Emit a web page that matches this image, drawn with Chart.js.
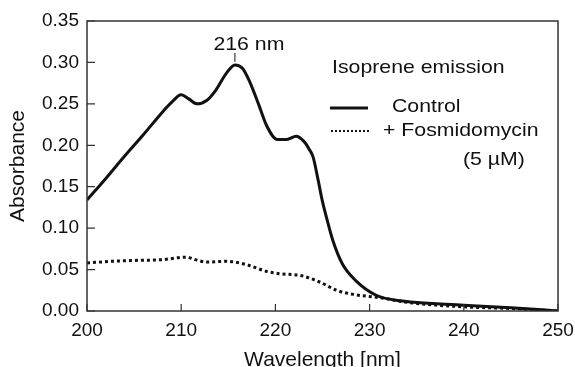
<!DOCTYPE html>
<html>
<head>
<meta charset="utf-8">
<script src="https://cdn.jsdelivr.net/npm/chart.js@4/dist/chart.umd.min.js"></script>
<style>
  html, body { margin: 0; padding: 0; background: #fff; }
  #wrap { width: 575px; height: 367px; }
</style>
</head>
<body>
<div id="wrap"><canvas id="specGraph" width="575" height="367"></canvas></div>
<script>
// data
const controlNm = [200, 202, 204, 206, 208, 209, 210, 210.8, 211.7, 212.7, 213.7, 214.8, 215.7, 216.5, 217.3, 218.2, 219.1, 220.2, 221.2, 222.2, 223.0, 223.6, 224.0, 224.5, 225.0, 225.4, 226.1, 227.1, 228.5, 230.7, 233.5, 240, 245, 250];
const controlAbs = [0.134, 0.160, 0.187, 0.213, 0.240, 0.252, 0.261, 0.256, 0.250, 0.254, 0.267, 0.287, 0.297, 0.293, 0.276, 0.250, 0.223, 0.207, 0.207, 0.211, 0.205, 0.195, 0.186, 0.160, 0.132, 0.114, 0.085, 0.057, 0.037, 0.019, 0.012, 0.007, 0.004, 0.0];
const fosNm = [200, 202.7, 205, 208, 210.5, 211.5, 212.7, 214.8, 216.9, 219.0, 220.4, 222.6, 224.7, 226.5, 228.3, 231.1, 234.3, 240, 245, 250];
const fosAbs = [0.058, 0.060, 0.061, 0.062, 0.065, 0.062, 0.059, 0.060, 0.056, 0.048, 0.045, 0.043, 0.035, 0.025, 0.020, 0.016, 0.010, 0.005, 0.003, 0.0];
const xTicks = [200, 210, 220, 230, 240, 250];
const yTicks = [0, 0.05, 0.10, 0.15, 0.20, 0.25, 0.30, 0.35];
const peakNm = 215.7;
const peakAbs = 0.297;

const ink = "#111";
const font = "'Liberation Sans', Arial, sans-serif";

function toPoints(xs, ys) {
  return xs.map((x, i) => ({ x: x, y: ys[i] }));
}

// text in the original is a bit wide, so stretch it a little
function wideText(ctx, text, x, y, align) {
  ctx.save();
  ctx.translate(x, y);
  ctx.scale(1.12, 1);
  ctx.textAlign = align;
  ctx.fillText(text, 0, 0);
  ctx.restore();
}

//frame, inward ticks, peak label and legend
const decorations = {
  id: "decorations",
  afterDraw(chart) {
    const ctx = chart.ctx;
    const a = chart.chartArea;
    const xs = chart.scales.x;
    const ys = chart.scales.y;
    ctx.save();
    ctx.strokeStyle = "#333";
    ctx.lineWidth = 1.5;
    ctx.strokeRect(a.left, a.top, a.right - a.left, a.bottom - a.top);

    ctx.lineWidth = 1.2;
    ctx.beginPath();
    xTicks.forEach((v) => {
      const px = xs.getPixelForValue(v);
      ctx.moveTo(px, a.bottom);
      ctx.lineTo(px, a.bottom - 7);
    });
    yTicks.forEach((v) => {
      const py = ys.getPixelForValue(v);
      ctx.moveTo(a.left, py);
      ctx.lineTo(a.left + 8, py);
    });
    ctx.stroke();

    // 216 nm marker
    const peakX = xs.getPixelForValue(peakNm);
    const peakY = ys.getPixelForValue(peakAbs);
    ctx.strokeStyle = ink;
    ctx.lineWidth = 1;
    ctx.beginPath();
    ctx.moveTo(peakX, peakY - 3);
    ctx.lineTo(peakX, peakY - 12);
    ctx.stroke();
    ctx.fillStyle = ink;
    ctx.font = "19px " + font;
    ctx.textBaseline = "alphabetic";
    wideText(ctx, "216 nm", peakX + 14, peakY - 15, "center");

    // legend
    ctx.textBaseline = "middle";
    wideText(ctx, "Isoprene emission", 332, 68, "left");
    ctx.lineWidth = 3;
    ctx.beginPath();
    ctx.moveTo(330, 108);
    ctx.lineTo(368, 108);
    ctx.stroke();
    wideText(ctx, "Control", 392, 107, "left");
    ctx.lineWidth = 2;
    ctx.setLineDash([2, 2]);
    ctx.beginPath();
    ctx.moveTo(331, 131);
    ctx.lineTo(370, 131);
    ctx.stroke();
    ctx.setLineDash([]);
    wideText(ctx, "+ Fosmidomycin", 383, 131, "left");
    wideText(ctx, "(5 \u00b5M)", 463, 160, "left");
    ctx.restore();
  },
};

let specGraph = document.getElementById("specGraph").getContext("2d");
Chart.defaults.font.family = font;
Chart.defaults.color = ink;
let spectrumChart = new Chart(specGraph, {
  type: "line",
  data: {
    datasets: [
      {
        label: "Control",
        data: toPoints(controlNm, controlAbs),
        borderColor: ink,
        borderWidth: 3,
        pointRadius: 0,
        cubicInterpolationMode: "monotone",
        fill: false,
      },
      {
        label: "+ Fosmidomycin (5 \u00b5M)",
        data: toPoints(fosNm, fosAbs),
        borderColor: ink,
        borderWidth: 3,
        borderDash: [3, 3],
        pointRadius: 0,
        cubicInterpolationMode: "monotone",
        fill: false,
      },
    ],
  },
  plugins: [decorations],
  options: {
    responsive: false,
    animation: false,
    layout: { padding: { top: 21, right: 0, left: 0, bottom: 0 } },
    plugins: { legend: { display: false }, tooltip: { enabled: false } },
    scales: {
      x: {
        type: "linear",
        min: 200,
        max: 250,
        afterBuildTicks: (s) => { s.ticks = xTicks.map((v) => ({ value: v })); },
        afterFit: (s) => { s.height = 56; s.paddingRight = 17; },
        grid: { display: false, drawTicks: false },
        border: { display: false },
        ticks: { font: { size: 19 }, padding: 8, maxRotation: 0 },
        title: { display: true, text: "Wavelength [nm]", font: { size: 21, lineHeight: 1 }, padding: { top: 0, bottom: -4 } },
      },
      y: {
        min: 0,
        max: 0.35,
        afterBuildTicks: (s) => { s.ticks = yTicks.map((v) => ({ value: v })); },
        afterFit: (s) => { s.width = 87; },
        grid: { display: false, drawTicks: false },
        border: { display: false },
        ticks: { font: { size: 19 }, padding: 8, callback: (v) => v.toFixed(2) },
        title: { display: true, text: "Absorbance", font: { size: 21, lineHeight: 1 }, padding: { top: 8, bottom: 0 } },
      },
    },
  },
});
</script>
</body>
</html>
